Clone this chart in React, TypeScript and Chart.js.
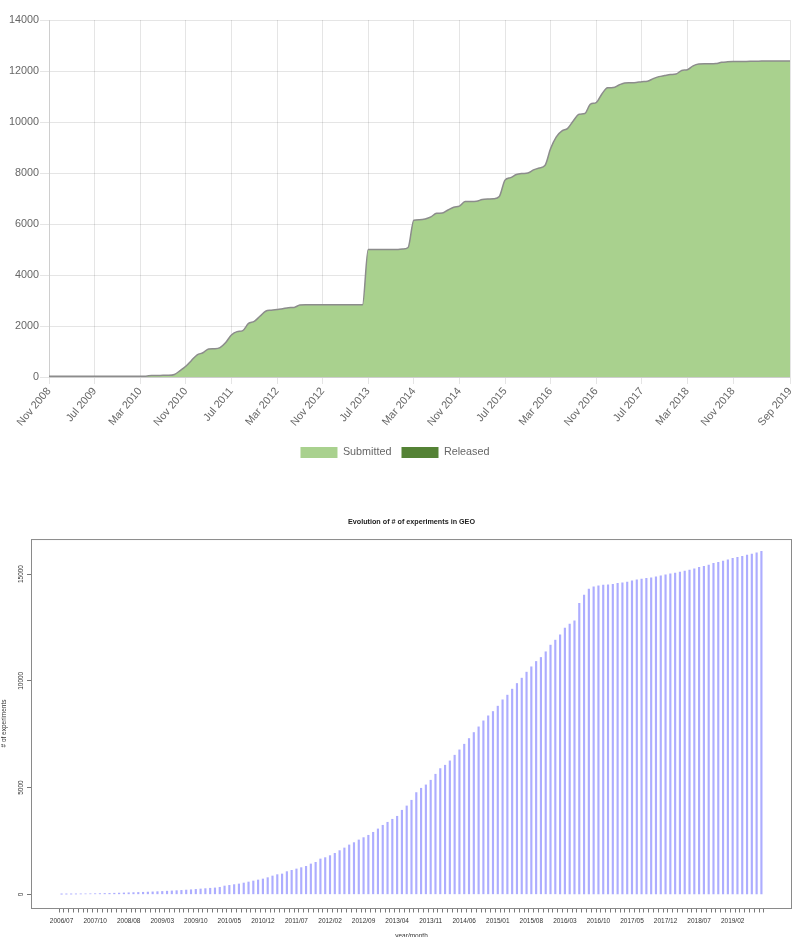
import React, { useEffect, useRef } from 'react';
import { Chart, registerables } from 'chart.js';

Chart.register(...registerables);

const FONT = 'Liberation Sans, Arial, Helvetica, sans-serif';

// ---------- Chart 1: cumulative submissions (monthly, Nov 2008 .. Sep 2019) ----------
const MONTH_ABBR = ['Jan', 'Feb', 'Mar', 'Apr', 'May', 'Jun', 'Jul', 'Aug', 'Sep', 'Oct', 'Nov', 'Dec'];
const growthMonths: string[] = [];
for (let y = 2008, m = 10; y < 2019 || (y === 2019 && m <= 8); m++) {
  if (m === 12) { m = 0; y++; }
  growthMonths.push(`${MONTH_ABBR[m]} ${y}`);
}
const growthShownTicks: string[] = [
  'Nov 2008', 'Jul 2009', 'Mar 2010', 'Nov 2010', 'Jul 2011', 'Mar 2012', 'Nov 2012', 'Jul 2013', 'Mar 2014',
  'Nov 2014', 'Jul 2015', 'Mar 2016', 'Nov 2016', 'Jul 2017', 'Mar 2018', 'Nov 2018', 'Sep 2019',
];

const submitted: number[] = [
  25, 25, 26, 26, 27, 27, 28, 28, 29, 29, 30, 30, 30, 31, 31, 32, 32, 33,
  60, 62, 64, 66, 100,
  250, 420, 650, 870, 950, 1100, 1110, 1150, 1350, 1650, 1780, 1820, 2100, 2180, 2380, 2580, 2620, 2650, 2680, 2720, 2730, 2820,
  2830, 2830, 2830, 2830, 2830, 2830, 2830, 2830, 2830, 2830, 2830,
  5000, 5000, 5000, 5000, 5000, 5000,
  5020, 5080, 6150,
  6170, 6200, 6280, 6420, 6430, 6550, 6660, 6700, 6880, 6880, 6890, 6960, 6980, 6990, 7080, 7720, 7820, 7940, 7980, 8000,
  8120, 8200, 8290, 8960, 9420, 9650, 9750, 10050, 10300, 10330, 10700, 10760, 11100, 11340, 11350, 11450, 11530, 11540,
  11550, 11580, 11600, 11700, 11780, 11820, 11860, 11880, 12020, 12050, 12200, 12270, 12280, 12280, 12290, 12340, 12360,
  12370, 12370, 12375, 12380, 12380, 12390, 12390, 12390, 12390, 12390, 12390,
];
const released: number[] = growthMonths.map(() => 0);
const growthYTicks = { min: 0, max: 14000, step: 2000 };

// ---------- Chart 2: GEO experiments ----------
const geoMonths: string[] = [
  '2006/07', '2006/09', '2006/11', '2007/01', '2007/04', '2007/06', '2007/08', '2007/10',
  '2007/12', '2008/02', '2008/03', '2008/04', '2008/05', '2008/07', '2008/08',
];
for (let y = 2008, m = 9; y < 2019 || (y === 2019 && m <= 8); m++) {
  if (m === 13) { m = 1; y++; }
  geoMonths.push(`${y}/${String(m).padStart(2, '0')}`);
}

const geoCounts: number[] = [
  5, 8, 10, 14, 18, 22, 26, 30, 35, 40, 45, 52, 58, 65, 72, 80, 88, 97, 106, 115, 125, 136, 148, 160, 172, 186, 200, 215, 232, 250, 268, 285,
  300, 330, 390, 420, 455, 485, 530, 578, 625, 672, 719, 781, 859, 922, 953, 1063, 1125, 1188, 1250, 1313, 1422, 1500, 1656, 1719,
  1813, 1922, 2047, 2172, 2313, 2422, 2547, 2656, 2766, 2906, 3063, 3234, 3375, 3516, 3656,
  3938, 4140, 4406, 4766, 4969, 5125, 5344, 5625, 5890, 6047, 6250, 6516, 6766, 7031, 7297, 7578, 7844, 8125, 8360, 8563,
  8813, 9110, 9330, 9610, 9875, 10125, 10406, 10656, 10906, 11094, 11360, 11672, 11906, 12156, 12470, 12656, 12813, 13625,
  14016, 14297, 14406, 14453, 14484, 14500, 14515, 14563, 14594, 14625, 14688, 14734, 14765, 14797, 14828, 14875, 14922,
  14969, 15016, 15047, 15094, 15140, 15187, 15250, 15312, 15360, 15422, 15500, 15547, 15610, 15672, 15735, 15780, 15828,
  15890, 15937, 16000, 16063,
];
const geoYTicks = [0, 5000, 10000, 15000];
const GEO_LABEL_EVERY = 7;

const boxPlugin = {
  id: 'rBox',
  afterDraw(chart: any) {
    const { ctx, chartArea } = chart;
    ctx.save();
    ctx.strokeStyle = '#8a8a8a';
    ctx.lineWidth = 1;
    ctx.strokeRect(chartArea.left + 0.5, chartArea.top + 0.5, chartArea.right - chartArea.left - 1, chartArea.bottom - chartArea.top);
    ctx.restore();
  },
};

export default function App() {
  const ref1 = useRef<HTMLCanvasElement>(null);
  const ref2 = useRef<HTMLCanvasElement>(null);

  useEffect(() => {
    document.body.style.margin = '0';
    document.body.style.overflow = 'hidden';
    const tickFont = { size: 10.8, family: FONT };

    const c1 = new Chart(ref1.current!, {
      type: 'line',
      data: {
        labels: growthMonths,
        datasets: [
          {
            label: 'Submitted',
            data: submitted,
            fill: 'origin',
            backgroundColor: '#a9d18e',
            borderColor: '#8c8c8c',
            borderWidth: 1.5,
            pointRadius: 0,
            cubicInterpolationMode: 'monotone',
          },
          {
            label: 'Released',
            data: released,
            fill: 'origin',
            backgroundColor: '#548235',
            borderColor: '#548235',
            borderWidth: 0,
            pointRadius: 0,
          },
        ],
      },
      options: {
        responsive: false,
        animation: false,
        layout: { padding: { left: 0, right: 3, top: 20, bottom: 0 } },
        plugins: {
          tooltip: { enabled: false },
          legend: {
            position: 'bottom',
            labels: {
              boxWidth: 37,
              boxHeight: 11,
              padding: 10,
              color: '#666',
              font: tickFont,
              generateLabels: (chart: any) =>
                Chart.defaults.plugins.legend.labels.generateLabels(chart).map((l: any) => ({
                  ...l,
                  strokeStyle: l.fillStyle,
                  lineWidth: 0,
                })),
            },
          },
        },
        scales: {
          x: {
            grid: { color: 'rgba(0,0,0,0.1)', tickLength: 7 },
            ticks: {
              autoSkip: false,
              minRotation: 50,
              maxRotation: 50,
              padding: 1,
              color: '#666',
              font: tickFont,
              callback: (_v: any, i: number) =>
                growthShownTicks.includes(growthMonths[i]) ? growthMonths[i] : null,
            },
            afterFit: (s: any) => { s.height = 60; s.paddingRight = 0; },
          },
          y: {
            min: growthYTicks.min,
            max: growthYTicks.max,
            grid: { color: 'rgba(0,0,0,0.1)', tickLength: 9 },
            ticks: {
              stepSize: growthYTicks.step,
              color: '#666',
              font: tickFont,
              padding: 1,
              callback: (v: any) => String(v),
            },
            afterFit: (s: any) => { s.width = 49; },
          },
        },
      },
    } as any);

    const rFont = { size: 6.5, family: FONT };
    const c2 = new Chart(ref2.current!, {
      type: 'bar',
      data: {
        datasets: [
          {
            label: '# of experiments',
            data: geoCounts.map((v, i) => ({ x: i, y: v })),
            backgroundColor: '#adadff',
            barThickness: 1.5,
          },
        ],
      },
      options: {
        responsive: false,
        animation: false,
        layout: { padding: { left: 0, right: 1, top: 0, bottom: 0 } },
        plugins: {
          legend: { display: false },
          tooltip: { enabled: false },
          title: {
            display: true,
            text: 'Evolution of # of experiments in GEO',
            fullSize: false,
            color: '#222',
            font: { size: 7.2, weight: 'bold', family: FONT },
            padding: { top: 17.7, bottom: 12.7 },
          },
        },
        scales: {
          x: {
            type: 'linear',
            min: -5.84,
            max: geoCounts.length - 1 + 5.84,
            afterBuildTicks: (s: any) => { s.ticks = geoMonths.map((_m, i) => ({ value: i })); },
            grid: { drawOnChartArea: false, tickLength: 4.5, color: '#777' },
            border: { display: false },
            ticks: {
              autoSkip: false,
              minRotation: 0,
              maxRotation: 0,
              padding: 5.3,
              color: '#333',
              font: rFont,
              callback: (v: any) => (v % GEO_LABEL_EVERY === 0 ? geoMonths[v] : ''),
            },
            title: { display: true, text: 'year/month', color: '#333', font: rFont, padding: { top: 0, bottom: 6.6 } },
            afterFit: (s: any) => { s.height = 39; },
          },
          y: {
            min: -640,
            max: 16640,
            afterBuildTicks: (s: any) => { s.ticks = geoYTicks.map((v) => ({ value: v })); },
            grid: { drawOnChartArea: false, tickLength: 4, color: '#777' },
            border: { display: false },
            ticks: {
              minRotation: 90,
              maxRotation: 90,
              crossAlign: 'center',
              padding: -3.5,
              color: '#333',
              font: rFont,
              callback: (v: any) => String(v),
            },
            title: { display: true, text: '# of experiments', color: '#333', font: rFont, padding: 0 },
            afterFit: (s: any) => { s.width = 31; },
          },
        },
      },
      plugins: [boxPlugin],
    } as any);

    return () => { c1.destroy(); c2.destroy(); };
  }, []);

  return (
    <div style={{ position: 'absolute', left: 0, top: 0, width: 793, height: 937, overflow: 'hidden', background: '#fff' }}>
      <canvas ref={ref1} width={793} height={468} style={{ position: 'absolute', left: 0, top: 0, width: 793, height: 468 }} />
      <div style={{ position: 'absolute', left: 0, top: 500, width: 793, height: 437, overflow: 'hidden' }}>
        <canvas ref={ref2} width={793} height={447} style={{ display: 'block', width: 793, height: 447 }} />
      </div>
    </div>
  );
}
